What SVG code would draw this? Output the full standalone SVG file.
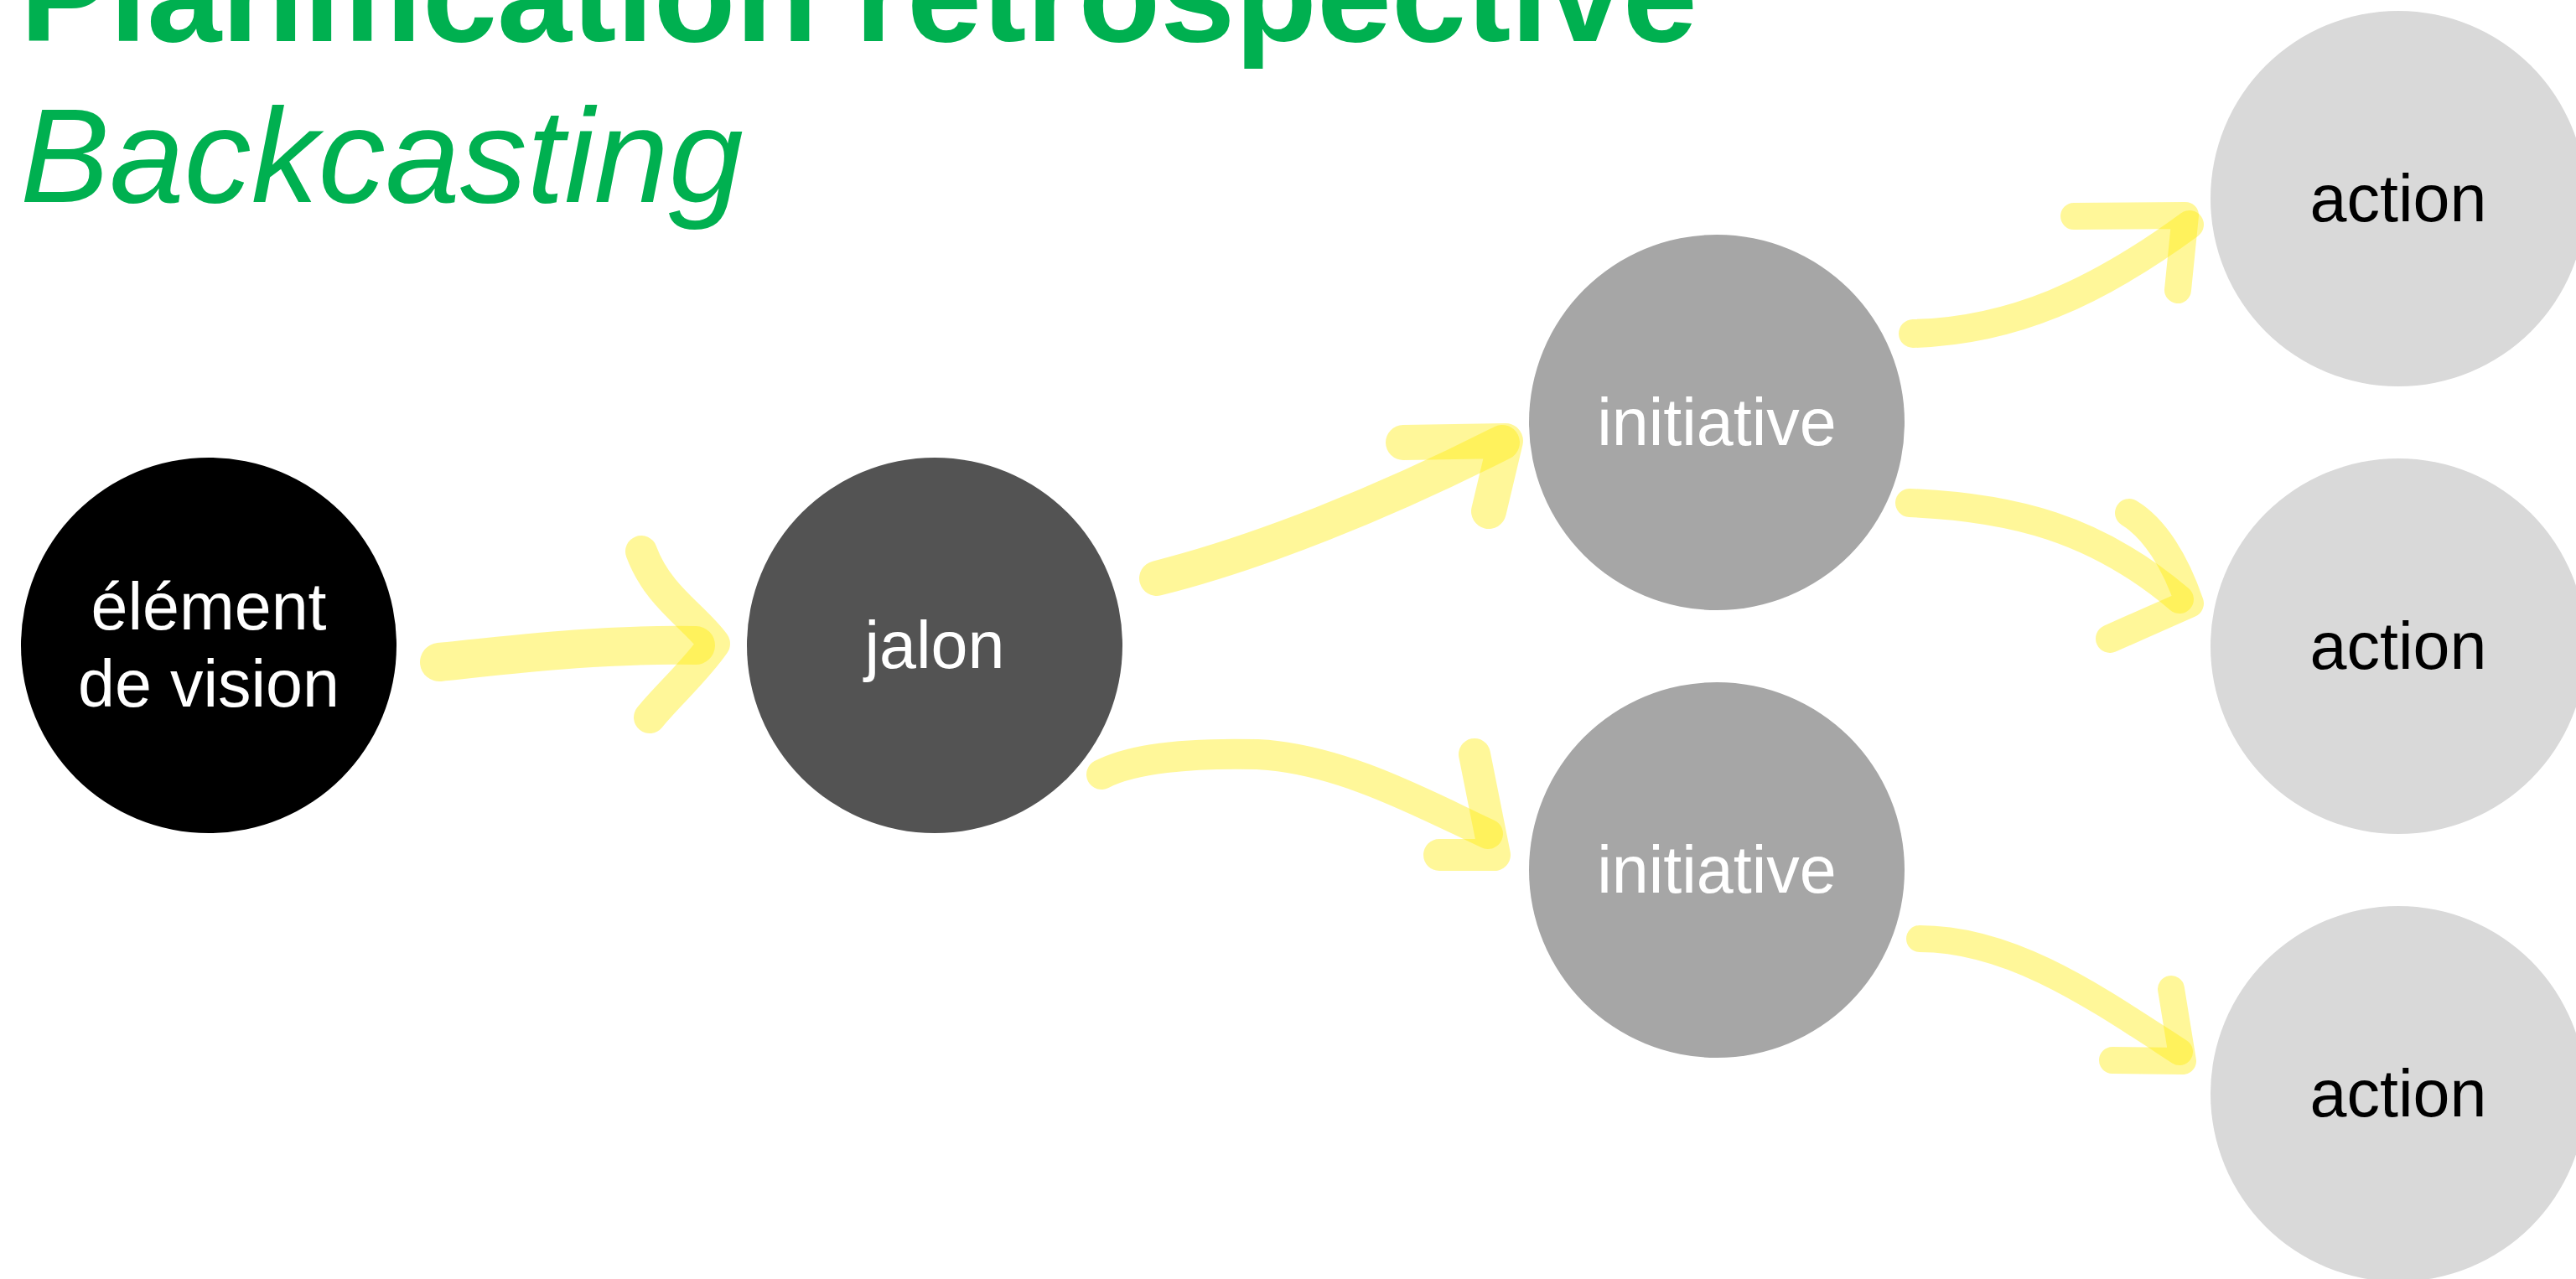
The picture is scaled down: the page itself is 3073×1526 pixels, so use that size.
<svg xmlns="http://www.w3.org/2000/svg" width="3073" height="1526" viewBox="0 0 3073 1526">
<style>
.title{font-family:"Liberation Sans",Arial,sans-serif;font-size:160px;fill:#00B050}
.lbl{font-family:"Liberation Sans",Arial,sans-serif;font-size:79px;text-anchor:middle}
.w{fill:#ffffff}
.k{fill:#000000}
.hl{fill:none;stroke:#FFEB00;stroke-opacity:0.4;stroke-linecap:round;stroke-linejoin:round}
</style>
<rect width="3073" height="1526" fill="#ffffff"/>
<text class="title" x="24" y="49" font-weight="bold">Planification rétrospective</text>
<text class="title" x="24" y="241" font-style="italic">Backcasting</text>
<g id="n-vision"><circle cx="249" cy="770" r="224" fill="#000000"/><text class="lbl w" x="249" y="751">élément</text><text class="lbl w" x="249" y="843">de vision</text></g>
<g id="n-jalon"><circle cx="1115" cy="770" r="224" fill="#535353"/><text class="lbl w" x="1115" y="797">jalon</text></g>
<g id="n-init1"><circle cx="2048" cy="504" r="224" fill="#A6A6A6"/><text class="lbl w" x="2048" y="531">initiative</text></g>
<g id="n-init2"><circle cx="2048" cy="1038" r="224" fill="#A6A6A6"/><text class="lbl w" x="2048" y="1065">initiative</text></g>
<g id="n-act1"><circle cx="2861" cy="237" r="224" fill="#D9D9D9"/><text class="lbl k" x="2861" y="264">action</text></g>
<g id="n-act2"><circle cx="2861" cy="771" r="224" fill="#D9D9D9"/><text class="lbl k" x="2861" y="798">action</text></g>
<g id="n-act3"><circle cx="2861" cy="1305" r="224" fill="#D9D9D9"/><text class="lbl k" x="2861" y="1332">action</text></g>
<g id="connectors">
<path class="hl" stroke-width="46" d="M524 790 C620 780 720 768 830 770"/>
<path class="hl" stroke-width="38" d="M765 658 C785 712 828 735 852 768 C830 800 796 830 775 856"/>
<path class="hl" stroke-width="42" d="M1380 690 C1500 660 1650 600 1792 528"/>
<path class="hl" stroke-width="42" d="M1674 528 L1796 526 L1776 610"/>
<path class="hl" stroke-width="36" d="M1314 924 C1350 905 1420 898 1500 900 C1600 905 1700 960 1775 995"/>
<path class="hl" stroke-width="38" d="M1759 900 L1783 1020 L1717 1020"/>
<path class="hl" stroke-width="34" d="M2282 398 C2400 395 2500 350 2612 268"/>
<path class="hl" stroke-width="32" d="M2474 258 L2607 257 L2598 346"/>
<path class="hl" stroke-width="34" d="M2278 600 C2400 605 2500 630 2600 715"/>
<path class="hl" stroke-width="34" d="M2540 612 C2570 630 2595 670 2612 720 L2517 762"/>
<path class="hl" stroke-width="32" d="M2290 1120 C2400 1120 2500 1190 2600 1255"/>
<path class="hl" stroke-width="32" d="M2590 1180 L2604 1266 L2520 1265"/>
</g>
</svg>
